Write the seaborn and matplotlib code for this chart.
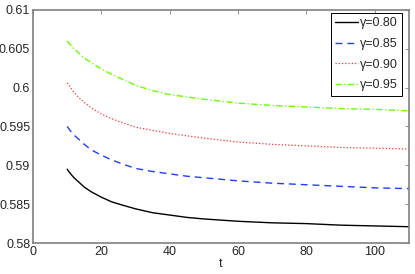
import numpy as np
import pandas as pd
import matplotlib
matplotlib.use("Agg")
import matplotlib.pyplot as plt
import seaborn as sns

# values
t = [10, 11, 12, 13, 14, 15, 17, 20, 23, 26, 30, 35, 40, 45, 50, 60, 70, 80, 90, 100, 110]
g080 = [0.5895, 0.5889, 0.5884, 0.5880, 0.5876, 0.5872, 0.5866, 0.5859, 0.5853, 0.5849, 0.5844,
        0.5839, 0.5836, 0.5833, 0.5831, 0.5828, 0.5826, 0.5825, 0.5823, 0.5822, 0.5821]
g085 = [0.5950, 0.5944, 0.5939, 0.5935, 0.5931, 0.5927, 0.5920, 0.5913, 0.5907, 0.5902, 0.5896,
        0.5892, 0.5889, 0.5886, 0.5884, 0.5880, 0.5877, 0.5875, 0.5873, 0.5871, 0.5870]
g090 = [0.6006, 0.6000, 0.5994, 0.5989, 0.5985, 0.5981, 0.5974, 0.5966, 0.5960, 0.5955, 0.5949,
        0.5945, 0.5941, 0.5938, 0.5935, 0.5930, 0.5927, 0.5925, 0.5923, 0.5922, 0.5921]
g095 = [0.6060, 0.6055, 0.6050, 0.6046, 0.6042, 0.6038, 0.6032, 0.6024, 0.6017, 0.6011, 0.6003,
        0.5996, 0.5991, 0.5988, 0.5985, 0.5980, 0.5977, 0.5975, 0.5973, 0.5972, 0.5970]
labels = ["\u03b3=0.80", "\u03b3=0.85", "\u03b3=0.90", "\u03b3=0.95"]

sns.set_style("white")
plt.rcParams['font.family'] = ['Liberation Sans', 'DejaVu Sans']
plt.rcParams['font.size'] = 9

fig = plt.figure(figsize=(4.15, 2.74), dpi=100)
ax = fig.add_axes([0.0795, 0.113, 0.906, 0.851])

styles = [
    (g080, "black", "-", 1.0),
    (g085, "#1f3dff", (0, (5, 3.5)), 1.0),
    (g090, "#ff3030", (0, (1, 1.6)), 0.9),
    (g095, "#66ff00", (0, (4.5, 1.8, 0.9, 1.8)), 1.0),
]
for (vals, col, ls, lw), lab in zip(styles, labels):
    df = pd.DataFrame({"t": t, "v": vals})
    sns.lineplot(data=df, x="t", y="v", ax=ax, color=col, linestyle=ls,
                 linewidth=lw, label=lab)

ax.set_xlim(0, 110)
ax.set_ylim(0.58, 0.61)
ax.set_xticks([0, 20, 40, 60, 80, 100])
ax.set_yticks([0.58, 0.585, 0.59, 0.595, 0.6, 0.605, 0.61])
ax.set_yticklabels(["0.58", "0.585", "0.59", "0.595", "0.6", "0.605", "0.61"])
ax.set_xlabel("t", labelpad=0)
ax.set_ylabel("")
ax.tick_params(direction="in", length=3, top=True, right=True, width=0.6,
               color="#808080", pad=2, labelsize=9)
for s in ax.spines.values():
    s.set_color("#808080")
    s.set_linewidth(1.2)

leg = ax.legend(loc="upper right", bbox_to_anchor=(1 - 7 / 376, 1 - 3 / 233),
                borderaxespad=0, fancybox=False, framealpha=1,
                edgecolor="black", fontsize=9, handlelength=1.8,
                labelspacing=0.7, handletextpad=0.15, borderpad=0.35)
leg.get_frame().set_linewidth(0.7)

fig.savefig("out.png", dpi=100)
